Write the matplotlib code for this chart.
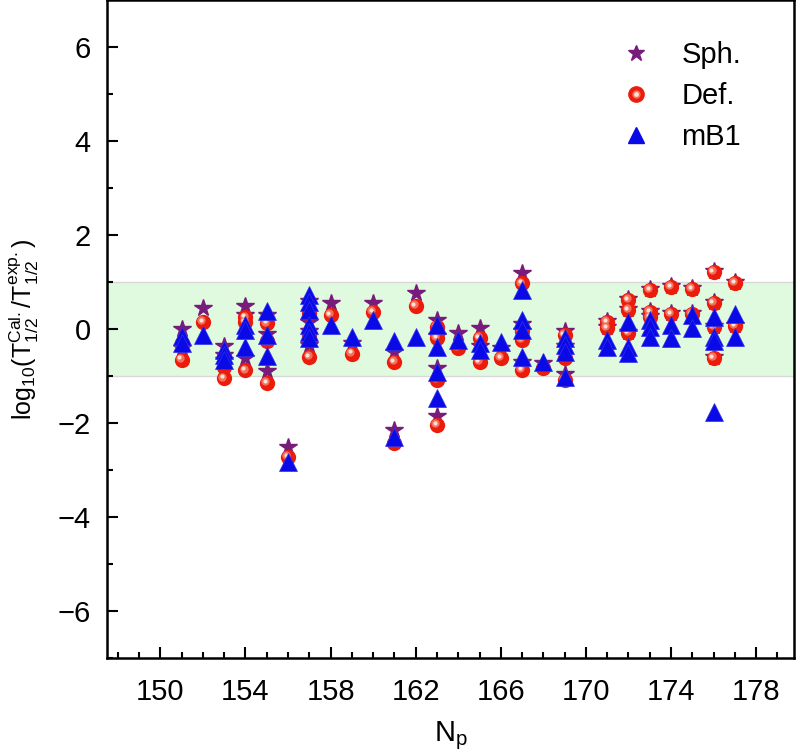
import numpy as np
import matplotlib
matplotlib.use("Agg")
import matplotlib.pyplot as plt
import matplotlib.transforms as mtransforms
from matplotlib.lines import Line2D
from matplotlib.legend_handler import HandlerTuple

plt.rcParams['font.family'] = ['Liberation Sans', 'DejaVu Sans']
plt.rcParams['mathtext.default'] = 'regular'

# Sph. (stars)
n_sph = [151, 151, 152, 153, 153, 153, 154, 154, 154, 155, 155, 155, 156,
         157, 157, 157, 157, 158, 159, 160, 161, 161, 162, 163, 163, 163, 163,
         164, 165, 165, 166, 167, 167, 167, 167, 168, 169, 169, 169,
         171, 171, 172, 172, 172, 173, 173, 173, 174, 174, 175, 175,
         176, 176, 176, 176, 177, 177]
sph = [0.0, -0.4, 0.45, -0.35, -0.55, -0.65, 0.48, 0.3, -0.62, 0.3, -0.1, -0.9, -2.5,
       0.6, 0.15, -0.05, -0.34, 0.55, -0.3, 0.55, -0.48, -2.15, 0.76, 0.2, -0.15, -0.82, -1.85,
       -0.09, 0.02, -0.35, -0.4, 1.19, 0.1, -0.05, -0.7, -0.72, -0.05, -0.35, -0.95,
       0.17, 0.04, 0.64, 0.42, -0.07, 0.85, 0.38, 0.27, 0.92, 0.34, 0.87, 0.34,
       1.23, 0.57, 0.06, -0.6, 1.0, 0.08]

# Def. (spheres)
n_def = [151, 151, 152, 153, 153, 153, 154, 154, 154, 155, 155, 155, 156,
         157, 157, 157, 157, 158, 159, 160, 161, 161, 162, 163, 163, 163, 163,
         164, 165, 165, 166, 167, 167, 167, 167, 168, 169, 169, 169,
         171, 171, 172, 172, 172, 173, 173, 173, 174, 174, 175, 175,
         176, 176, 176, 176, 177, 177]
defo = [-0.3, -0.65, 0.15, -0.6, -0.8, -1.05, 0.25, 0.15, -0.88, 0.12, -0.25, -1.15, -2.72,
        0.35, -0.12, -0.2, -0.6, 0.3, -0.52, 0.36, -0.7, -2.43, 0.49, 0.05, -0.19, -1.08, -2.04,
        -0.4, -0.19, -0.7, -0.62, 0.97, -0.05, -0.23, -0.87, -0.83, -0.13, -0.62, -1.08,
        0.15, 0.02, 0.62, 0.4, -0.09, 0.83, 0.36, 0.25, 0.9, 0.32, 0.85, 0.32,
        1.21, 0.55, 0.04, -0.62, 0.98, 0.06]

# mB1 (triangles)
n_mb1 = [151, 151, 152, 153, 153, 153, 154, 154, 154, 155, 155, 155, 156,
         157, 157, 157, 157, 157, 157, 158, 159, 160, 161, 161, 162, 163, 163, 163, 163,
         164, 165, 165, 166, 167, 167, 167, 167, 168, 169, 169, 169, 169,
         171, 171, 172, 172, 172, 173, 173, 173, 174, 174, 175, 175,
         176, 176, 176, 176, 177, 177]
mb1 = [-0.15, -0.3, -0.12, -0.45, -0.55, -0.65, 0.08, -0.03, -0.38, 0.38, -0.13, -0.58, -2.83,
       0.72, 0.58, 0.4, 0.08, -0.06, -0.2, 0.08, -0.17, 0.2, -0.25, -2.3, -0.17, 0.08, -0.38, -0.92, -1.47,
       -0.23, -0.3, -0.45, -0.27, 0.83, 0.19, -0.02, -0.6, -0.7, -0.2, -0.34, -0.49, -1.02,
       -0.23, -0.38, 0.15, -0.38, -0.51, 0.19, 0.04, -0.17, 0.08, -0.18, 0.3, 0.02,
       0.26, -0.17, -0.25, -1.77, 0.32, -0.17]

fig = plt.figure(figsize=(8.0, 7.53), dpi=100)
ax = fig.add_axes([0.134, 0.126, 0.859, 0.874])

# +-1 band
ax.axhspan(-1, 1, facecolor='#e0fae0', edgecolor='none', zorder=0)
ax.axhline(1, color='#d8d8d8', lw=1, zorder=0.5)
ax.axhline(-1, color='#d8d8d8', lw=1, zorder=0.5)

purple = '#771c7a'
red = '#ec1c0c'
blue = '#0a0ae6'

ax.plot(n_sph, sph, ls='none', marker='*', ms=13, color=purple, mec=purple, zorder=2)
ax.plot(n_def, defo, ls='none', marker='o', ms=11, color=red, mec='none', zorder=3)
hl1 = mtransforms.offset_copy(ax.transData, fig=fig, x=-1.3, y=1.3, units='points')
hl2 = mtransforms.offset_copy(ax.transData, fig=fig, x=-1.6, y=1.6, units='points')
ax.plot(n_def, defo, ls='none', marker='o', ms=6, color='#f2705c', mec='none',
        transform=hl1, zorder=3.1)
ax.plot(n_def, defo, ls='none', marker='o', ms=3, color='#fde0d6', mec='none',
        transform=hl2, zorder=3.2)
ax.plot(n_mb1, mb1, ls='none', marker='^', ms=13, color=blue, mec='#3030ee', mew=0.5, zorder=4)

ax.set_xlim(147.5, 179.8)
ax.set_ylim(-7, 7)
ax.set_xticks(np.arange(150, 179, 4))
ax.set_xticks(np.arange(148, 180, 1), minor=True)
ax.set_yticks(np.arange(-6, 7, 2))
ax.set_yticks(np.arange(-7, 8, 1), minor=True)
ax.tick_params(which='both', direction='in', top=False, right=False, width=1.5,
               labelsize=21)
ax.tick_params(axis='x', which='major', pad=14)
ax.tick_params(axis='y', which='major', pad=12)
ax.tick_params(which='major', length=8)
ax.tick_params(which='minor', length=4)
for s in ax.spines.values():
    s.set_linewidth(1.8)

ax.set_xlabel('N$_p$', fontsize=21, labelpad=10)
ax.set_ylabel('log$_{10}$(T$^{Cal.}_{1/2}$/T$^{exp.}_{1/2}$)', fontsize=18, labelpad=12)

h_sph = Line2D([], [], ls='none', marker='*', ms=12, color=purple)
h_def = (Line2D([], [], ls='none', marker='o', ms=11, color=red),
         Line2D([], [], ls='none', marker='o', ms=5, color='#f2705c'),
         Line2D([], [], ls='none', marker='o', ms=2.5, color='#fde0d6'))
h_mb1 = Line2D([], [], ls='none', marker='^', ms=12, color=blue)
ax.legend([h_sph, h_def, h_mb1], ['Sph.', 'Def.', 'mB1'],
          handler_map={tuple: HandlerTuple(ndivide=1, pad=0)},
          loc='upper left', bbox_to_anchor=(0.70, 0.978), frameon=False,
          fontsize=21, labelspacing=0.45, handletextpad=0.8, handlelength=1.5)

fig.savefig('out.png', dpi=100)
